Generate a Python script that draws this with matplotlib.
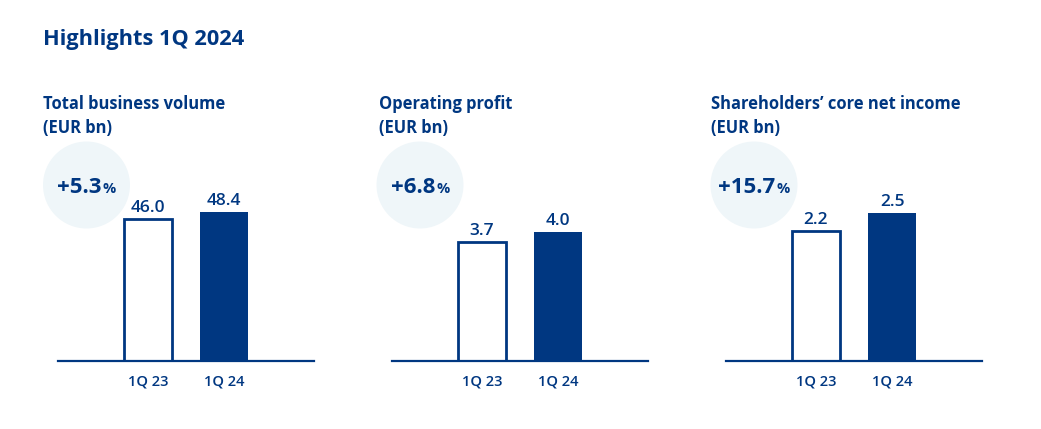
import matplotlib
matplotlib.use("Agg")
import matplotlib.pyplot as plt
from matplotlib.patches import Ellipse

# ---- data ----
main_title = "Highlights 1Q 2024"
panel_titles = ["Total business volume\n(EUR bn)",
                "Operating profit\n(EUR bn)",
                "Shareholders\u2019 core net income\n(EUR bn)"]
periods = ["1Q 23", "1Q 24"]
values_tbv = [46.0, 48.4]
values_op = [3.7, 4.0]
values_ni = [2.2, 2.5]
growth = ["+5.3", "+6.8", "+15.7"]
value_labels_tbv = ["46.0", "48.4"]
value_labels_op = ["3.7", "4.0"]
value_labels_ni = ["2.2", "2.5"]

# ---- style ----
BLUE = "#003781"
CIRCLE = "#EFF6F9"
FONT = ["Open Sans", "DejaVu Sans"]
plt.rcParams['font.family'] = FONT

W, H = 1041, 429
fig = plt.figure(figsize=(W / 100, H / 100), dpi=100)
fig.patch.set_facecolor("white")

def fx(px):
    return px / W

def fy(py):
    return 1 - py / H

fig.text(fx(43), fy(45), main_title, fontsize=15.7, fontweight="bold",
         color=BLUE, va="baseline", ha="left")

panels = [
    (values_tbv, value_labels_tbv, 58, 43, 86.5, 65.0),
    (values_op, value_labels_op, 392, 379, 420, 6.22),
    (values_ni, value_labels_ni, 726, 711, 754, 3.38),
]

renderer = fig.canvas.get_renderer()

for i, (vals, vlabels, ax_left, title_left, cx, ytop) in enumerate(panels):
    # panel title
    l1, l2 = panel_titles[i].split("\n")
    fig.text(fx(title_left), fy(109), l1, fontsize=11.9,
             fontweight="bold", color=BLUE, va="baseline", ha="left")
    fig.text(fx(title_left), fy(133), l2, fontsize=11.9,
             fontweight="bold", color=BLUE, va="baseline", ha="left")

    # circle
    circ = Ellipse((fx(cx), fy(185)), width=87 / W, height=87 / H,
                   transform=fig.transFigure, facecolor=CIRCLE, edgecolor="none",
                   zorder=0)
    fig.patches.append(circ)

    # growth text
    t1 = fig.text(0, fy(193), growth[i], fontsize=16, fontweight="bold",
                  color=BLUE, va="baseline", ha="left", zorder=3)
    t2 = fig.text(0, fy(193), "%", fontsize=10.5, fontweight="bold",
                  color=BLUE, va="baseline", ha="left", zorder=3)
    w1 = t1.get_window_extent(renderer).width
    w2 = t2.get_window_extent(renderer).width
    gap = 1
    total = w1 + gap + w2
    x0 = cx - total / 2
    t1.set_x(fx(x0))
    t2.set_x(fx(x0 + w1 + gap))

    # axes
    ax = fig.add_axes([fx(ax_left), (H - 361) / H, 256 / W, 200 / H])
    ax.set_facecolor("none")
    ax.set_zorder(2)
    x = [0, 1]
    ax.bar(x[0], vals[0], width=0.63, facecolor="white", edgecolor=BLUE,
           linewidth=2, zorder=3)
    ax.bar(x[1], vals[1], width=0.63, facecolor=BLUE, edgecolor=BLUE,
           linewidth=0, zorder=3)
    for xi, v, lab in zip(x, vals, vlabels):
        ax.annotate(lab, (xi, v), xytext=(0, 7), textcoords="offset pixels",
                    ha="center", va="baseline", fontsize=12.5, color=BLUE,
                    fontweight="semibold")
    ax.set_xlim(-1.184, 2.184)
    ax.set_ylim(0, ytop)
    ax.set_xticks(x)
    ax.set_xticklabels(periods, fontsize=10.5, color=BLUE, fontweight="semibold")
    ax.tick_params(axis="x", length=0, pad=10)
    ax.set_yticks([])
    for s in ["top", "left", "right"]:
        ax.spines[s].set_visible(False)
    ax.spines["bottom"].set_color(BLUE)
    ax.spines["bottom"].set_linewidth(1.6)
    ax.spines["bottom"].set_zorder(4)

fig.savefig("out.png", dpi=100, facecolor="white")
